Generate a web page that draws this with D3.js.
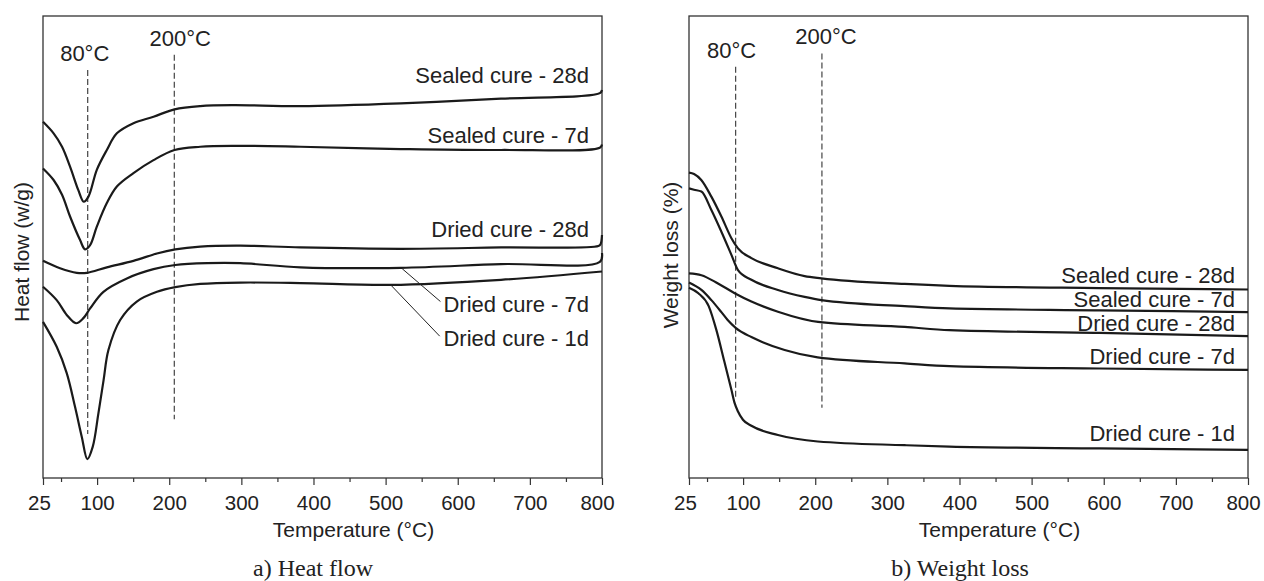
<!DOCTYPE html>
<html>
<head>
<meta charset="utf-8">
<script src="https://cdn.jsdelivr.net/npm/d3@7"></script>
<style>
  body { margin: 0; background: #fff; }
  text { font-family: "Liberation Sans", Arial, sans-serif; fill: #222; }
  .caption { font-family: "Liberation Serif", "Times New Roman", serif; }
</style>
</head>
<body>
<svg id="canvas" width="1264" height="581"></svg>
<script>
// temperature axis
const majorTicks = [25, 100, 200, 300, 400, 500, 600, 700, 800]
const minorTicks = [50, 150, 250, 350, 450, 550, 650, 750]
const seriesNames = ["Sealed cure - 28d", "Sealed cure - 7d", "Dried cure - 28d", "Dried cure - 7d", "Dried cure - 1d"]

// a) heat flow, [temperature, relative heat flow]
const heatSealed28 = [[25,7.71],[39.7,7.46],[51.4,7.17],[62.5,6.74],[74,6.23],[81.5,5.98],[88,6.09],[99.6,6.67],[113.5,7.10],[127.4,7.46],[150.4,7.68],[178.2,7.82],[207.4,7.98],[243,8.05],[289,8.07],[382,8.05],[521,8.11],[660,8.21],[797,8.33],[800,8.40]]
const heatSealed7 = [[25,6.70],[39.7,6.45],[51.4,6.13],[62.5,5.66],[76.4,5.15],[83.3,4.95],[90.3,5.04],[99.6,5.44],[113.5,5.95],[127.4,6.31],[150.4,6.60],[178.2,6.88],[207.4,7.10],[243,7.17],[289,7.19],[382,7.17],[521,7.12],[660,7.10],[797,7.15],[800,7.22]]
const heatDried28 = [[25,4.70],[48.6,4.54],[71.8,4.44],[85.7,4.44],[113.5,4.56],[150.4,4.70],[182.9,4.86],[208.4,4.95],[243,5.01],[298.6,5.03],[382,4.99],[521,4.96],[660,4.99],[795,5.02],[798,5.06],[800,5.26]]
const heatDried7 = [[25,4.14],[44,3.85],[57.9,3.53],[70.8,3.35],[81,3.46],[90.3,3.67],[108.8,4.03],[141.3,4.32],[178.2,4.52],[208.4,4.61],[252.4,4.65],[298.6,4.65],[382,4.56],[521,4.55],[660,4.63],[797,4.68],[800,4.87]]
const heatDried1 = [[25,3.38],[44,2.84],[57.9,2.27],[69.4,1.54],[78.8,0.89],[86.5,0.41],[94,0.68],[101.8,1.40],[109,2.12],[115.7,2.77],[132,3.42],[155,3.82],[183,4.03],[208.4,4.13],[243,4.20],[298.6,4.23],[382,4.22],[507,4.18],[660,4.29],[800,4.47]]

// b) weight loss, [temperature, relative mass]
const wlSealed28 = [[25,6.61],[32,6.58],[42,6.45],[56,6.09],[69.9,5.66],[83.8,5.19],[92.9,4.97],[111.5,4.76],[148.3,4.54],[185.3,4.37],[208.5,4.32],[324,4.20],[386,4.16],[594,4.11],[800,4.08]]
const wlSealed7 = [[25,6.27],[32,6.24],[42.2,6.20],[56,5.80],[69.9,5.33],[83.8,4.83],[92.9,4.50],[111.5,4.29],[148.3,4.07],[185.3,3.92],[208.5,3.85],[324,3.72],[386,3.67],[594,3.63],[800,3.59]]
const wlDried28 = [[25,4.43],[42.2,4.39],[65.2,4.21],[88.3,4.00],[111.5,3.82],[148.3,3.60],[204,3.38],[324,3.27],[386,3.20],[594,3.14],[800,3.07]]
const wlDried7 = [[25,4.23],[42.2,4.07],[56,3.85],[69.9,3.59],[78.6,3.42],[89.7,3.25],[111.5,3.05],[127.1,2.94],[157.6,2.77],[203.3,2.61],[324,2.48],[386,2.42],[594,2.37],[800,2.34]]
const wlDried1 = [[25,4.12],[38,4.00],[52.3,3.72],[63,3.20],[74,2.52],[83.8,1.91],[88.3,1.62],[92.9,1.44],[99.8,1.26],[111.5,1.13],[148.3,0.93],[203.6,0.79],[324,0.71],[386,0.68],[594,0.64],[800,0.61]]

// label positions in data units (baseline)
const heatLabelY = [8.55, 7.25, 5.22, 3.59, 2.86]
const wlLabelY = [4.21, 3.71, 3.19, 2.47, 0.81]
// leader lines for the two lower heat flow curves [T1, v1, T2, v2]
const heatLeaders = [[523, 4.53, 576, 3.82], [507, 4.18, 575, 3.07]]
// dashed markers [temperature, top, bottom]
const heatMarkers = [[87, 8.83, 0.95], [207, 9.16, 1.27]]
const wlMarkers = [[89.7, 8.90, 1.76], [209.3, 9.19, 1.52]]
const markerNames = ["80°C", "200°C"]

let canvas = d3.select("#canvas")

function drawPanel(opt) {
  let g = canvas.append("g")
  let x = d3.scaleLinear().domain([25, 800]).range([opt.left, opt.left + 559])
  let y = d3.scaleLinear().domain([0, 10]).range([478, 16])

  // ticks
  let major = g.append("g")
               .attr("transform", "translate(0,478)")
               .call(d3.axisBottom(x).tickValues(majorTicks).tickSize(7).tickSizeOuter(0).tickPadding(10))
  major.select(".domain").remove()
  major.selectAll("line").attr("stroke", "#333").attr("stroke-width", 1.2)
  major.selectAll("text")
       .style("font-size", "20.5px")
       .attr("fill", "#222")
       .attr("dx", (d) => d === 25 ? -4 : (d === 800 ? -5 : 0))

  let minor = g.append("g")
               .attr("transform", "translate(0,478)")
               .call(d3.axisBottom(x).tickValues(minorTicks).tickSize(4).tickSizeOuter(0).tickFormat(""))
  minor.select(".domain").remove()
  minor.selectAll("line").attr("stroke", "#333").attr("stroke-width", 1.2)

  // frame
  g.append("rect")
   .attr("x", x(25))
   .attr("y", y(10))
   .attr("width", x(800) - x(25))
   .attr("height", y(0) - y(10))
   .attr("fill", "none")
   .attr("stroke", "#333")
   .attr("stroke-width", 1.3)

  // dashed markers
  opt.markers.forEach((m, i) => {
    g.append("line")
     .attr("x1", x(m[0])).attr("x2", x(m[0]))
     .attr("y1", y(m[1])).attr("y2", y(m[2]))
     .attr("stroke", "#333")
     .attr("stroke-width", 1.1)
     .attr("stroke-dasharray", "6,3")
    g.append("text")
     .attr("x", x(m[0]) + opt.markerDx[i])
     .attr("y", y(m[1]) - 9)
     .attr("text-anchor", "middle")
     .style("font-size", "22px")
     .text(markerNames[i])
  })

  // curves
  let line = d3.line()
               .x((d) => x(d[0]))
               .y((d) => y(d[1]))
               .curve(opt.curve)

  g.selectAll("path.curve")
   .data(opt.series)
   .enter()
   .append("path")
   .attr("class", "curve")
   .attr("d", line)
   .attr("fill", "none")
   .attr("stroke", "#1a1a1a")
   .attr("stroke-width", 2.2)

  // curve labels
  g.selectAll("text.lbl")
   .data(seriesNames)
   .enter()
   .append("text")
   .attr("class", "lbl")
   .attr("x", x(800) - 13)
   .attr("y", (d, i) => y(opt.labelY[i]))
   .attr("text-anchor", "end")
   .style("font-size", "22px")
   .text((d) => d)

  if (opt.leaders) {
    opt.leaders.forEach((l) => {
      g.append("line")
       .attr("x1", x(l[0])).attr("y1", y(l[1]))
       .attr("x2", x(l[2])).attr("y2", y(l[3]))
       .attr("stroke", "#222")
       .attr("stroke-width", 1)
    })
  }

  // axis titles
  g.append("text")
   .attr("x", (x(25) + x(800)) / 2 + 31)
   .attr("y", 537)
   .attr("text-anchor", "middle")
   .style("font-size", "21px")
   .text("Temperature (°C)")

  g.append("text")
   .attr("transform", "translate(" + opt.yTitleX + "," + opt.yTitleY + ") rotate(-90)")
   .attr("text-anchor", "middle")
   .style("font-size", "21px")
   .text(opt.yTitle)

  g.append("text")
   .attr("class", "caption")
   .attr("x", opt.captionX)
   .attr("y", 576)
   .attr("text-anchor", "middle")
   .style("font-size", "24px")
   .text(opt.caption)
}

drawPanel({
  left: 43,
  series: [heatSealed28, heatSealed7, heatDried28, heatDried7, heatDried1],
  curve: d3.curveCatmullRom.alpha(0.5),
  labelY: heatLabelY,
  leaders: heatLeaders,
  markers: heatMarkers,
  markerDx: [-3, 6],
  yTitle: "Heat flow (w/g)",
  yTitleX: 29,
  yTitleY: 252,
  caption: "a) Heat flow",
  captionX: 313
})

drawPanel({
  left: 689,
  series: [wlSealed28, wlSealed7, wlDried28, wlDried7, wlDried1],
  curve: d3.curveMonotoneX,
  labelY: wlLabelY,
  leaders: null,
  markers: wlMarkers,
  markerDx: [-4, 4],
  yTitle: "Weight loss (%)",
  yTitleX: 678,
  yTitleY: 255,
  caption: "b) Weight loss",
  captionX: 960
})
</script>
</body>
</html>
